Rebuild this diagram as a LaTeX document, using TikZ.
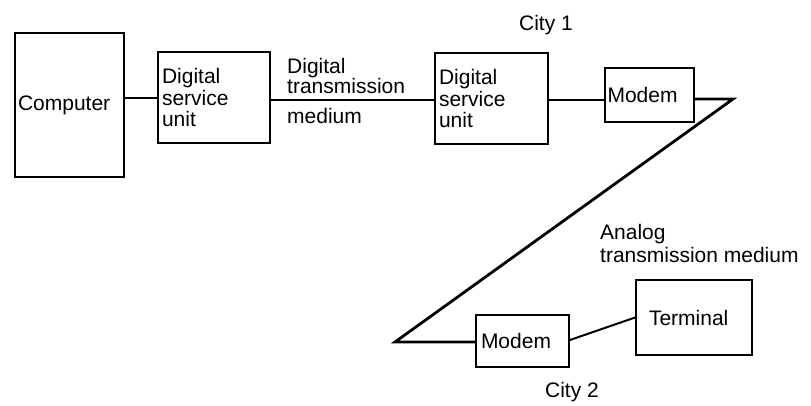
\documentclass[tikz,border=0pt]{standalone}
\usepackage{fontspec}
\setmainfont{Liberation Sans}
\begin{document}
\begin{tikzpicture}[x=1pt,y=-1pt,
  every node/.style={font=\fontsize{21}{21.5}\selectfont},
  box/.style={draw,line width=1.8pt,inner sep=0pt,align=left},
  txt/.style={inner sep=0pt,align=left},
  wire/.style={line width=2pt},
  thick wire/.style={line width=2.8pt,line join=miter}]
\useasboundingbox (0,0) rectangle (811,405);
% boxes
\node[box,minimum width=109pt,minimum height=144pt,text width=103pt,inner xsep=3pt] (comp) at (69.5,105) {Computer};
\node[box,minimum width=112pt,minimum height=91pt,text width=104pt,inner xsep=4pt] (dsu1) at (214,97.5) {Digital\\service\\unit};
\node[box,minimum width=113pt,minimum height=91pt,text width=105pt,inner xsep=4pt] (dsu2) at (491.5,98.5) {Digital\\service\\unit};
\node[box,minimum width=89pt,minimum height=54pt,text width=84pt,inner xsep=2.5pt] (m1) at (649.5,95) {Modem};
\node[box,minimum width=93pt,minimum height=52pt,text width=83pt,inner xsep=5pt] (m2) at (522.5,341) {Modem};
\node[box,minimum width=116pt,minimum height=75pt,text width=104pt,inner xsep=6pt] (term) at (694,317.5) {\hspace*{7pt}Terminal\\[6pt]};
% labels
\node[txt,anchor=base west] (lab1) at (287,73) {Digital};
\node[txt,anchor=base west] (lab2) at (287,93) {transmission};
\node[txt,anchor=base west] (lab3) at (287,123) {medium};
\node[txt,anchor=base] (city1) at (546,30) {City 1};
\node[txt,anchor=base west] (an1) at (600,239) {Analog};
\node[txt,anchor=base west] (an2) at (600,262) {transmission medium};
\node[txt,anchor=base] (city2) at (572,397) {City 2};
% corners
\coordinate (c1) at (733,99);
\coordinate (c2) at (395,342);
% connectors
\draw[wire] (comp.east |- dsu1.west) -- (dsu1.west);
\draw[wire] (dsu1.east |- 0,100) -- (dsu2.west |- 0,100);
\draw[wire] (dsu2.east |- 0,100) -- (m1.west |- 0,100);
\draw[thick wire] (m1.east |- c1) -- (c1) -- (c2) -- (m2.west |- c2);
\draw[wire] (m2.east) ++(0,-1) -- (term.west);
\end{tikzpicture}
\end{document}
